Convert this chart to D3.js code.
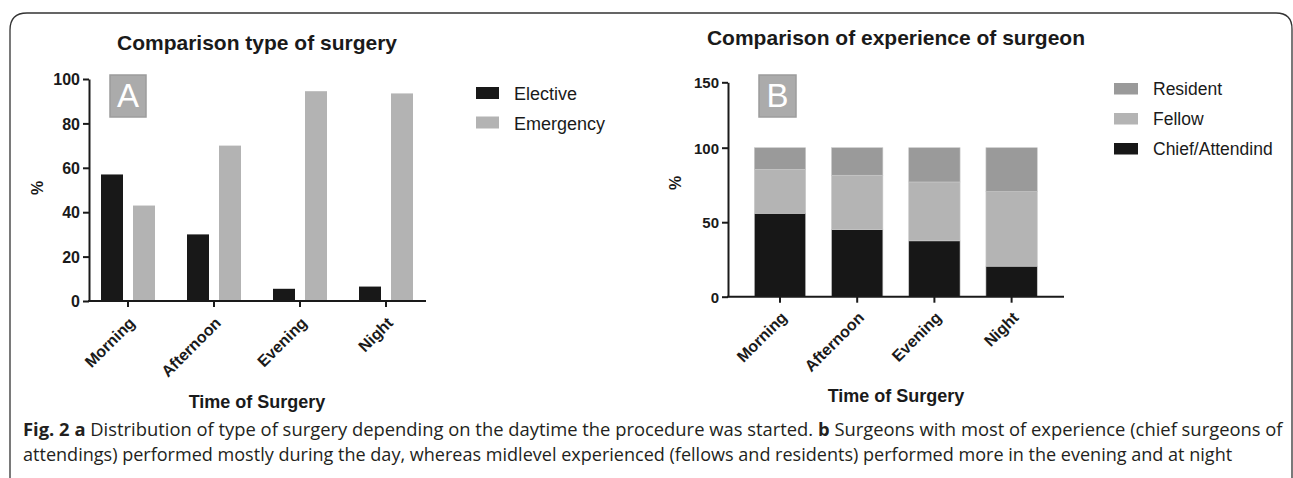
<!DOCTYPE html>
<html><head><meta charset="utf-8">
<script src="https://cdn.jsdelivr.net/npm/d3@7"></script>
<style>body{margin:0;background:#fff}svg{display:block}</style>
</head><body>
<svg id="c" width="1293" height="478"></svg>
<script>
// ---------- data ----------
const categories = ["Morning", "Afternoon", "Evening", "Night"];
const typeSeries = ["Elective", "Emergency"];
const elective = [57, 30, 5.5, 6.5];
const emergency = [43, 70, 94.5, 93.5];
const expSeries = ["Chief/Attendind", "Fellow", "Resident"];
const chief = [56, 45, 37.5, 20.5];
const fellow = [29.5, 36.5, 39.5, 50];
const resident = [14.5, 18.5, 23, 29.5];
const yTicksA = [0, 20, 40, 60, 80, 100];
const yTicksB = [0, 50, 100, 150];

const FONT = "'Liberation Sans', Arial, sans-serif";
const INK = "#1a1a1a";
const colA = { Elective: "#181818", Emergency: "#b3b3b3" };
const colB = { "Chief/Attendind": "#171717", Fellow: "#b4b4b4", Resident: "#9a9a9a" };

const svg = d3.select("#c");

// frame
svg.append("path")
  .attr("d", "M10,478 V30 Q10,13 27,13 H1276 Q1292,13 1292,29 V478")
  .attr("fill", "none").attr("stroke", "#333").attr("stroke-width", 1.3);

// ================= Panel A =================
const tableA = categories.map((c, i) => ({ cat: c, Elective: elective[i], Emergency: emergency[i] }));
const yA = d3.scaleLinear().domain([0, 100]).range([301, 79]);
const x0A = d3.scaleBand().domain(categories).range([85, 429]).paddingInner(32 / 86).paddingOuter(16 / 86);
const x1A = d3.scaleBand().domain(typeSeries).range([0, x0A.bandwidth()]).paddingInner(0.3125);
const axXA = 89;

const gA = svg.append("g");
gA.append("g").selectAll("g").data(tableA).join("g")
  .attr("transform", d => `translate(${x0A(d.cat)},0)`)
  .selectAll("rect").data(d => typeSeries.map(k => ({ k, v: d[k] }))).join("rect")
  .attr("x", d => x1A(d.k)).attr("width", x1A.bandwidth())
  .attr("y", d => yA(d.v)).attr("height", d => yA(0) - yA(d.v))
  .attr("fill", d => colA[d.k]);

// y axis A
const yAxA = gA.append("g").attr("transform", `translate(${axXA},0)`)
  .call(d3.axisLeft(yA).tickValues(yTicksA).tickSize(6).tickSizeOuter(0).tickPadding(3));
// x axis A
const xAxA = gA.append("g").attr("transform", `translate(0,${yA(0)})`)
  .call(d3.axisBottom(x0A).tickSize(6).tickSizeOuter(0));
xAxA.select(".domain").remove();
gA.append("line").attr("x1", axXA - 1).attr("x2", 426).attr("y1", yA(0)).attr("y2", yA(0))
  .attr("stroke", INK).attr("stroke-width", 2);

function styleAxis(g, size) {
  g.selectAll("path.domain").attr("stroke", INK).attr("stroke-width", 2);
  g.selectAll(".tick line").attr("stroke", INK).attr("stroke-width", 2);
  g.selectAll("text").attr("font-family", FONT).attr("font-weight", "bold")
    .attr("font-size", size).attr("fill", INK);
}
styleAxis(yAxA, 16);
styleAxis(xAxA, 16);
yAxA.selectAll("text").attr("dy", "0.36em");
xAxA.selectAll("text").attr("x", 0).attr("y", 0).attr("dy", 0)
  .attr("text-anchor", "end").attr("transform", "translate(8,23) rotate(-45)");

// titles A
gA.append("text").attr("x", 257).attr("y", 50).attr("text-anchor", "middle")
  .attr("font-family", FONT).attr("font-weight", "bold").attr("font-size", 21).attr("fill", INK)
  .text("Comparison type of surgery");
gA.append("text").attr("x", 257).attr("y", 408).attr("text-anchor", "middle")
  .attr("font-family", FONT).attr("font-weight", "bold").attr("font-size", 18).attr("fill", INK)
  .text("Time of Surgery");
gA.append("text").attr("transform", "translate(43,188) rotate(-90)").attr("text-anchor", "middle")
  .attr("font-family", FONT).attr("font-weight", "bold").attr("font-size", 16).attr("fill", INK)
  .text("%");
// letter box A
gA.append("rect").attr("x", 110).attr("y", 75).attr("width", 36).attr("height", 42)
  .attr("fill", "#ababab").attr("stroke", "#9c9c9c").attr("stroke-width", 1.5);
gA.append("text").attr("x", 128).attr("y", 107).attr("text-anchor", "middle")
  .attr("font-family", FONT).attr("font-size", 33).attr("fill", "#fff").text("A");
// legend A
const legA = gA.append("g").selectAll("g").data(typeSeries).join("g")
  .attr("transform", (d, i) => `translate(476,${87 + i * 29.5})`);
legA.append("rect").attr("width", 23).attr("height", 12).attr("fill", d => colA[d]);
legA.append("text").attr("x", 38).attr("y", 13).attr("font-family", FONT).attr("font-size", 18)
  .attr("fill", INK).text(d => d);

// ================= Panel B =================
const tableB = categories.map((c, i) => ({ cat: c, "Chief/Attendind": chief[i], Fellow: fellow[i], Resident: resident[i] }));
const stackB = d3.stack().keys(expSeries)(tableB);
const yB = d3.scaleLinear().domain([0, 100, 150]).range([296.7, 147.7, 82.3]);
const xB = d3.scaleBand().domain(categories).range([741.4, 1050.2]).paddingInner(0.335).paddingOuter(0.1675);
const axXB = 728;

const gB = svg.append("g");
gB.append("g").selectAll("g").data(stackB).join("g")
  .attr("fill", d => colB[d.key])
  .selectAll("rect").data(d => d).join("rect")
  .attr("x", d => xB(d.data.cat)).attr("width", xB.bandwidth())
  .attr("y", d => yB(d[1])).attr("height", d => yB(d[0]) - yB(d[1]))
  .attr("stroke", "#c9c9c9").attr("stroke-width", 0.6);

const yAxB = gB.append("g").attr("transform", `translate(${axXB},0)`)
  .call(d3.axisLeft(yB).tickValues(yTicksB).tickSize(6).tickSizeOuter(0).tickPadding(3));
const xAxB = gB.append("g").attr("transform", `translate(0,${yB(0)})`)
  .call(d3.axisBottom(xB).tickSize(6).tickSizeOuter(0));
xAxB.select(".domain").remove();
gB.append("line").attr("x1", axXB - 1).attr("x2", 1064).attr("y1", yB(0)).attr("y2", yB(0))
  .attr("stroke", INK).attr("stroke-width", 2);
styleAxis(yAxB, 15);
styleAxis(xAxB, 16);
yAxB.selectAll("text").attr("dy", "0.36em");
xAxB.selectAll("text").attr("x", 0).attr("y", 0).attr("dy", 0)
  .attr("text-anchor", "end").attr("transform", "translate(8,22) rotate(-45)");

gB.append("text").attr("x", 896).attr("y", 45).attr("text-anchor", "middle")
  .attr("font-family", FONT).attr("font-weight", "bold").attr("font-size", 21).attr("fill", INK)
  .text("Comparison of experience of surgeon");
gB.append("text").attr("x", 896).attr("y", 402).attr("text-anchor", "middle")
  .attr("font-family", FONT).attr("font-weight", "bold").attr("font-size", 18).attr("fill", INK)
  .text("Time of Surgery");
gB.append("text").attr("transform", "translate(681,183) rotate(-90)").attr("text-anchor", "middle")
  .attr("font-family", FONT).attr("font-weight", "bold").attr("font-size", 16).attr("fill", INK)
  .text("%");
gB.append("rect").attr("x", 759).attr("y", 75).attr("width", 37).attr("height", 42)
  .attr("fill", "#ababab").attr("stroke", "#9c9c9c").attr("stroke-width", 1.5);
gB.append("text").attr("x", 777.5).attr("y", 107).attr("text-anchor", "middle")
  .attr("font-family", FONT).attr("font-size", 33).attr("fill", "#fff").text("B");

const legOrder = expSeries.slice().reverse();
const legB = gB.append("g").selectAll("g").data(legOrder).join("g")
  .attr("transform", (d, i) => `translate(1114,${83 + i * 30})`);
legB.append("rect").attr("width", 24).attr("height", 11.5).attr("fill", d => colB[d]);
legB.append("text").attr("x", 39).attr("y", 12).attr("font-family", FONT).attr("font-size", 17.5)
  .attr("fill", INK).text(d => d);

// ================= Caption =================
const CAP = "'Open Sans', 'Noto Sans', sans-serif";
const line1 = [["Fig. 2 a", true], [" Distribution of type of surgery depending on the daytime the procedure was started. ", false], ["b", true], [" Surgeons with most of experience (chief surgeons of", false]];
const line2 = [["attendings) performed mostly during the day, whereas midlevel experienced (fellows and residents) performed more in the evening and at night", false]];
function capLine(parts) {
  const t = svg.append("text").attr("x", 0).attr("y", 0)
    .attr("font-family", CAP).attr("font-size", 18).attr("fill", "#231f20");
  parts.forEach(([s, b]) => t.append("tspan").attr("font-weight", b ? "bold" : "normal").text(s));
  return t;
}
const c1 = capLine(line1), c2 = capLine(line2);
const w1 = c1.node().getComputedTextLength();
const w2 = c2.node().getComputedTextLength();
c1.attr("transform", `translate(23,436) scale(${(1283 - 23) / w1},1)`);
c2.attr("transform", `translate(23,461) scale(${(1233 - 23) / w2},1)`);
</script>
</body></html>
